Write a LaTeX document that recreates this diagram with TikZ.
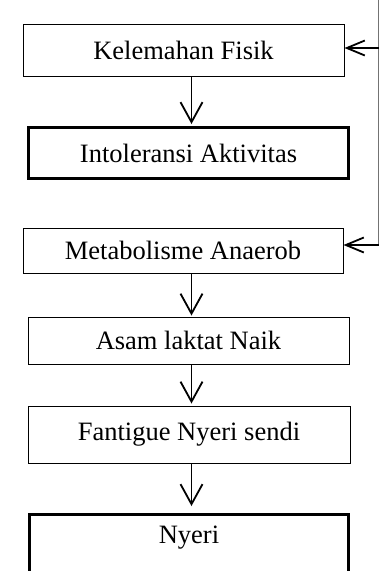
\documentclass[tikz,border=0pt]{standalone}
\usepackage{fontspec}
\setmainfont{Liberation Serif}
\usetikzlibrary{arrows.meta}
\begin{document}
\begin{tikzpicture}[x=1pt,y=-1pt,
  box/.style={draw=black,line width=1pt,rectangle,inner sep=0pt,font=\fontsize{26.5}{30}\selectfont},
  thickbox/.style={box,line width=3pt},
  arr/.style={line width=1.8pt,-{Straight Barb[length=20pt,width=22pt,line width=1.8pt]}},
  harr/.style={line width=1.8pt,-{Straight Barb[length=18pt,width=15pt,line width=1.8pt]}},
  fb/.style={draw=black!55,line width=1pt}]
\useasboundingbox (0,0) rectangle (380,571);
\fill[white] (0,0) rectangle (380,571);
\node[box,minimum width=321pt,minimum height=52pt] (b1) at (183.5,50) {Kelemahan Fisik};
\node[thickbox,minimum width=320pt,minimum height=51pt] (b2) at (188.5,153) {Intoleransi Aktivitas};
\node[box,minimum width=320pt,minimum height=45pt] (b3) at (183,250.5) {Metabolisme Anaerob};
\node[box,minimum width=321pt,minimum height=47pt] (b4) at (188.5,340.5) {Asam laktat Naik};
\node[box,minimum width=322pt,minimum height=57pt] (b5) at (189,434.5) {Fantigue Nyeri sendi};
\node[thickbox,minimum width=319pt,minimum height=64pt] (b6) at (189,546.5) {\raisebox{9pt}[\height][\depth]{Nyeri}};
\coordinate (ax) at (191.5,0);
\coordinate (fbtop) at (378.5,0);
\coordinate (fbbot) at (378.5,245);
\coordinate (fbmid) at (378.5,48);
\draw[arr,shorten >=2pt] (b1.south -| ax) -- (b2.north -| ax);
\draw[arr,shorten >=1pt] (b3.south -| ax) -- (b4.north -| ax);
\draw[arr,shorten >=2pt] (b4.south -| ax) -- (b5.north -| ax);
\draw[arr,shorten >=7pt] (b5.south -| ax) -- (b6.north -| ax);
\draw[fb] (fbtop) -- (fbbot);
\draw[harr] (fbmid) -- (fbmid -| b1.east);
\draw[harr] (fbbot) -- (fbbot -| b3.east);
\end{tikzpicture}
\end{document}
